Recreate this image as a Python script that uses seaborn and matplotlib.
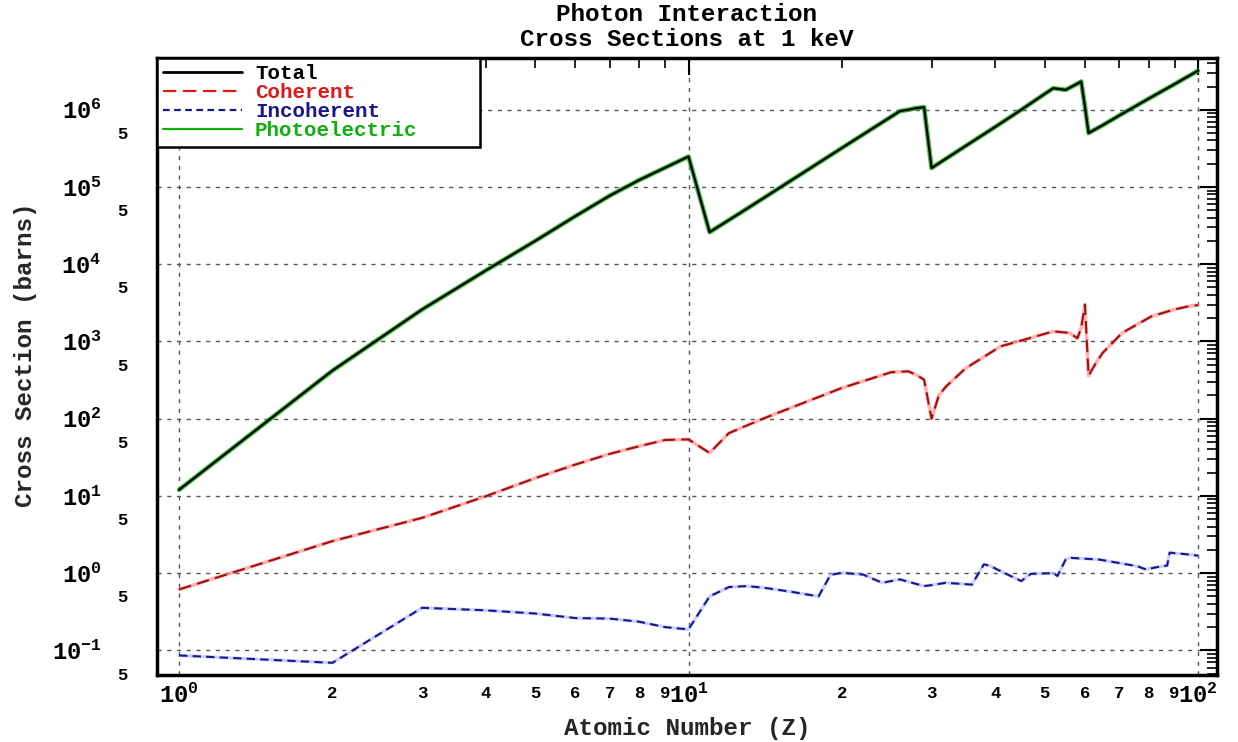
import matplotlib
matplotlib.use("Agg")
import matplotlib.pyplot as plt
import seaborn as sns
import pandas as pd
from matplotlib.lines import Line2D
from matplotlib.ticker import FixedLocator, FixedFormatter

# ---------------- data ----------------
Z_total = [1, 2, 3, 4, 5, 6, 7, 8, 9, 10, 11, 13, 15, 20, 26, 27, 28, 29, 30,
           35, 40, 45, 50, 52, 55, 57, 59, 60, 61, 65, 70, 80, 90, 100]
total = [12, 420, 2600, 8300, 2.0e4, 4.2e4, 7.7e4, 1.23e5, 1.78e5, 2.48e5,
         2.6e4, 5.2e4, 9.5e4, 3.2e5, 9.6e5, 1.0e6, 1.05e6, 1.08e6, 1.76e5,
         3.4e5, 6.0e5, 1.0e6, 1.6e6, 1.9e6, 1.81e6, 2.05e6, 2.32e6, 1.1e6,
         5.0e5, 6.3e5, 8.4e5, 1.39e6, 2.15e6, 3.2e6]
photoelectric = [12, 418, 2590, 8280, 2.0e4, 4.2e4, 7.7e4, 1.23e5, 1.78e5, 2.48e5,
                 2.6e4, 5.2e4, 9.5e4, 3.2e5, 9.6e5, 1.0e6, 1.05e6, 1.08e6, 1.76e5,
                 3.4e5, 6.0e5, 1.0e6, 1.6e6, 1.9e6, 1.81e6, 2.05e6, 2.32e6, 1.1e6,
                 5.0e5, 6.3e5, 8.4e5, 1.39e6, 2.15e6, 3.2e6]

Z_coherent = [1, 2, 3, 4, 5, 6, 7, 8, 9, 10, 11, 12, 14, 20, 25, 27, 28, 29, 30,
              31, 32, 35, 41, 48, 52, 56, 58, 59, 60, 61, 63, 65, 71, 81, 90, 97, 100]
coherent = [0.615, 2.6, 5.2, 9.9, 17, 25.5, 35, 44, 53, 54, 36, 65, 100, 250,
            400, 410, 370, 320, 100, 200, 260, 450, 865, 1160, 1350, 1290, 1100,
            1500, 3000, 361, 520, 710, 1290, 2110, 2600, 2900, 2950]

Z_incoherent = [1, 2, 3, 4, 5, 6, 7, 8, 9, 10, 11, 12, 13, 14, 16, 18, 19, 20, 22,
                24, 26, 29, 30, 32, 36, 38, 39, 41, 45, 47, 52, 53, 55, 56, 64, 76,
                79, 85, 87, 88, 98, 100]
incoherent = [0.086, 0.069, 0.356, 0.33, 0.30, 0.262, 0.258, 0.235, 0.20, 0.187,
              0.50, 0.66, 0.68, 0.65, 0.57, 0.50, 0.95, 1.01, 0.96, 0.75, 0.83,
              0.68, 0.70, 0.75, 0.71, 1.30, 1.25, 1.06, 0.79, 0.98, 1.0, 0.92,
              1.5, 1.58, 1.5, 1.23, 1.12, 1.23, 1.25, 1.84, 1.72, 1.68]

series_names = ["Total", "Coherent", "Incoherent", "Photoelectric"]
series_colors = ["#000000", "#e01818", "#18188c", "#10b010"]

x_major = [1, 10, 100]
x_major_labels = ["$10^{0}$", "$10^{1}$", "$10^{2}$"]
x_minor = [2, 3, 4, 5, 6, 7, 8, 9, 20, 30, 40, 50, 60, 70, 80, 90]
x_minor_labels = ["2", "3", "4", "5", "6", "7", "8", "9"] * 2
y_major = [1e-1, 1e0, 1e1, 1e2, 1e3, 1e4, 1e5, 1e6]
y_major_labels = ["$10^{-1}$", "$10^{0}$", "$10^{1}$", "$10^{2}$",
                  "$10^{3}$", "$10^{4}$", "$10^{5}$", "$10^{6}$"]

# ---------------- style ----------------
sns.set_theme(style="white")
plt.rcParams["font.family"] = ["Liberation Mono", "DejaVu Sans Mono"]
plt.rcParams["font.weight"] = "bold"
plt.rcParams["mathtext.default"] = "regular"

W, H = 1238, 742
fig = plt.figure(figsize=(W / 100, H / 100), dpi=100)
fig.patch.set_facecolor("white")
L, R, T, B = 157, 1217, 58, 675
ax = fig.add_axes([L / W, 1 - B / H, (R - L) / W, (B - T) / H])
ax.set_facecolor("white")

df_tot = pd.DataFrame({"Z": Z_total, "total": total, "photo": photoelectric})
df_coh = pd.DataFrame({"Z": Z_coherent, "coherent": coherent})
df_inc = pd.DataFrame({"Z": Z_incoherent, "incoherent": incoherent})

# photoelectric (green, under the total)
sns.lineplot(data=df_tot, x="Z", y="photo", ax=ax, color=series_colors[3],
             linewidth=3.4, estimator=None, sort=False, legend=False, alpha=0.8)
# total (black)
sns.lineplot(data=df_tot, x="Z", y="total", ax=ax, color=series_colors[0],
             linewidth=1.6, estimator=None, sort=False, legend=False)
# coherent: red glow + dashed
sns.lineplot(data=df_coh, x="Z", y="coherent", ax=ax, color="#ff8080",
             linewidth=2.6, estimator=None, sort=False, legend=False, alpha=0.6)
sns.lineplot(data=df_coh, x="Z", y="coherent", ax=ax, color="#a01010",
             linewidth=1.5, estimator=None, sort=False, legend=False,
             linestyle=(0, (6, 3)))
# incoherent: blue glow + dashed
sns.lineplot(data=df_inc, x="Z", y="incoherent", ax=ax, color="#9aa0ff",
             linewidth=2.4, estimator=None, sort=False, legend=False, alpha=0.5)
sns.lineplot(data=df_inc, x="Z", y="incoherent", ax=ax, color=series_colors[2],
             linewidth=1.5, estimator=None, sort=False, legend=False,
             linestyle=(0, (4, 2.5)))

ax.set_xscale("log")
ax.set_yscale("log")
ax.set_xlim(0.905, 109)
ax.set_ylim(0.048, 4.68e6)

ax.xaxis.set_major_locator(FixedLocator(x_major))
ax.xaxis.set_major_formatter(FixedFormatter(x_major_labels))
ax.xaxis.set_minor_locator(FixedLocator(x_minor))
ax.xaxis.set_minor_formatter(FixedFormatter(x_minor_labels))

y_minor = []
y_minor_labels = []
for m in y_major[:-1] + [1e-2]:
    for s in range(2, 10):
        v = m * s
        y_minor.append(v)
        y_minor_labels.append("5" if s == 5 else "")
y_minor += [2e6, 3e6, 4e6]
y_minor_labels += ["", "", ""]
ax.yaxis.set_major_locator(FixedLocator(y_major))
ax.yaxis.set_major_formatter(FixedFormatter(y_major_labels))
ax.yaxis.set_minor_locator(FixedLocator(y_minor))
ax.yaxis.set_minor_formatter(FixedFormatter(y_minor_labels))

ax.tick_params(axis="both", which="both", direction="in", top=True, right=True,
               colors="black")
ax.tick_params(axis="both", which="major", length=12, width=1.5)
ax.tick_params(axis="both", which="minor", length=7, width=1.2)
ax.tick_params(axis="x", which="major", pad=6, labelsize=17)
ax.tick_params(axis="x", which="minor", pad=8, labelsize=12.5)
ax.tick_params(axis="y", which="major", pad=40, labelsize=17)
ax.tick_params(axis="y", which="minor", pad=21, labelsize=12.5)
for lab in ax.get_xticklabels(which="both") + ax.get_yticklabels(which="both"):
    lab.set_fontweight("bold")

ax.grid(True, which="major", color="#555555", linestyle=(0, (3, 4)), linewidth=1.0)
ax.grid(False, which="minor")
for sp in ax.spines.values():
    sp.set_color("black")
    sp.set_linewidth(2.5)

ax.set_xlabel("Atomic Number (Z)", fontsize=17.5, fontweight="bold")
ax.set_ylabel("Cross Section (barns)", fontsize=17.5, fontweight="bold")
ax.xaxis.set_label_coords(((L + R) / 2) / W, 1 - 729 / H, transform=fig.transFigure)
ax.xaxis.label.set_verticalalignment("center")
ax.yaxis.set_label_coords(26 / W, 1 - 355 / H, transform=fig.transFigure)
ax.yaxis.label.set_verticalalignment("center")

fig.text(((L + R) / 2) / W, 1 - 27 / H, "Photon Interaction\nCross Sections at 1 keV",
         ha="center", va="center", fontsize=17.5, fontweight="bold",
         linespacing=1.15, color="black")

# legend
handles = [
    Line2D([], [], color=series_colors[0], linewidth=2.0),
    Line2D([], [], color=series_colors[1], linewidth=1.6, linestyle=(0, (6, 3))),
    Line2D([], [], color=series_colors[2], linewidth=1.6, linestyle=(0, (3, 2))),
    Line2D([], [], color=series_colors[3], linewidth=1.6),
]
leg_w = (480 - L) / (R - L)
leg = ax.legend(handles, series_names, loc="upper left",
                bbox_to_anchor=(0, 1, leg_w, 0), mode="expand",
                borderaxespad=0, frameon=True, fancybox=False, framealpha=1,
                edgecolor="black", handlelength=3.8,
                handletextpad=0.6, labelspacing=0.0, borderpad=0.3,
                prop={"weight": "bold", "size": 15})
leg.get_frame().set_linewidth(1.8)
for txt, c in zip(leg.get_texts(), series_colors):
    txt.set_color(c)

fig.savefig("out.png", dpi=100, facecolor="white")
